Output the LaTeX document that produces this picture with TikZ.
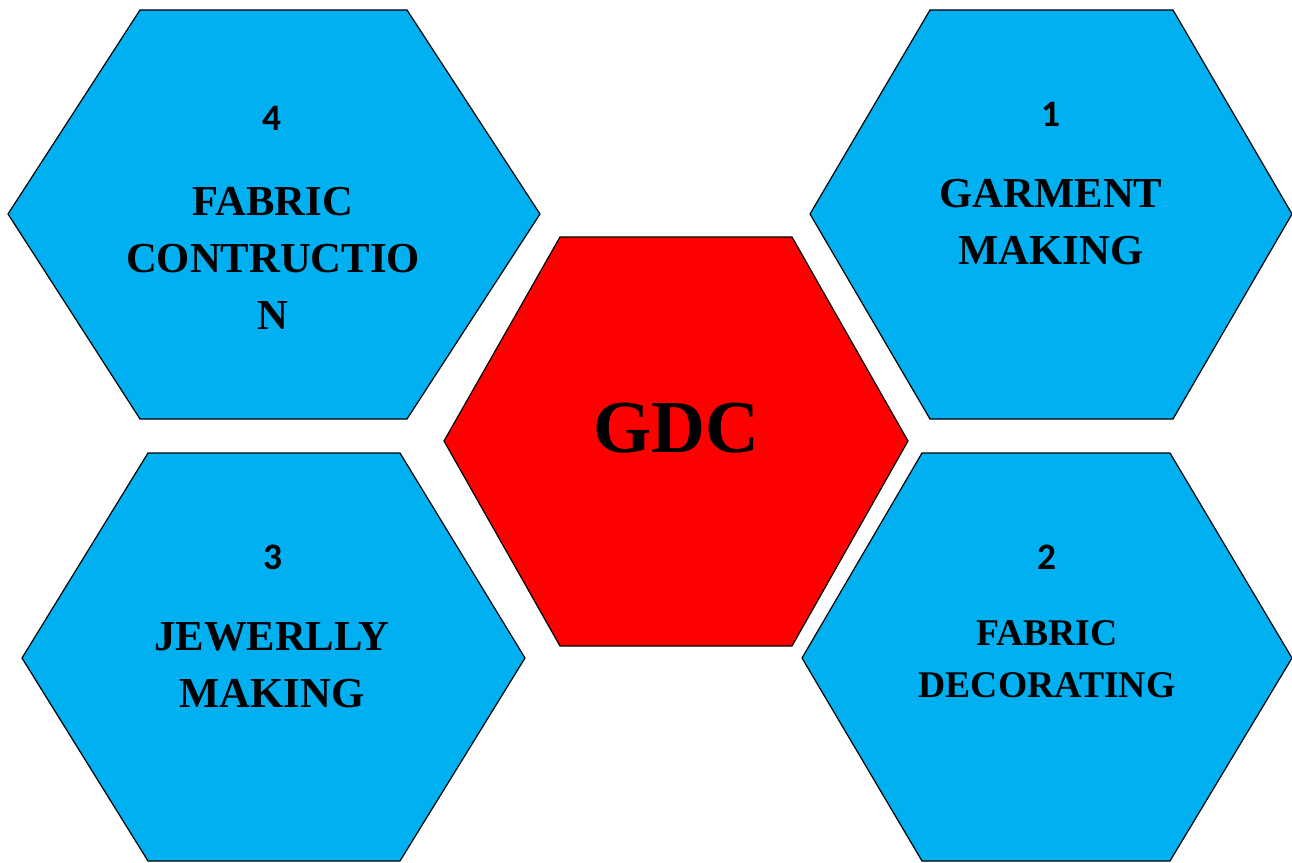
\documentclass[tikz,border=0pt]{standalone}
\usepackage{fontspec}
\setmainfont{Liberation Serif}
\newfontfamily\numfont{Carlito}
\definecolor{hexblue}{RGB}{0,176,240}
\definecolor{hexred}{RGB}{255,0,0}

\begin{document}
\begin{tikzpicture}[x=0.75pt,y=0.75pt,yscale=-1,xscale=1,
    hexcell/.style={draw=black,line width=0.9pt,fill=hexblue},
    hexcore/.style={draw=black,line width=0.9pt,fill=hexred},
    numlabel/.style={inner sep=0pt,font=\fontsize{28}{32}\selectfont\numfont\bfseries},
    celllabel/.style={align=center,inner sep=0pt,font=\fontsize{32}{42.75}\selectfont\bfseries}]
    \useasboundingbox (0,0) rectangle (1292,863);

    %Shape: Hexagon [id:fabric_construction]
    \draw [hexcell] (140,10) -- (407,10) -- (540,214) -- (407,419) -- (140,419) -- (8,214) -- cycle ;
    %Shape: Hexagon [id:garment_making]
    \draw [hexcell] (930,10) -- (1173,10) -- (1292,214) -- (1173,419) -- (930,419) -- (810,214) -- cycle ;
    %Shape: Hexagon [id:jewellery_making]
    \draw [hexcell] (148,453) -- (400,453) -- (525,658) -- (400,861) -- (148,861) -- (22,658) -- cycle ;
    %Shape: Hexagon [id:fabric_decorating]
    \draw [hexcell] (922,453) -- (1170,453) -- (1292,658) -- (1170,861) -- (922,861) -- (802,658) -- cycle ;
    %Shape: Hexagon [id:gdc]
    \draw [hexcore] (560,237) -- (792,237) -- (908,441) -- (792,646) -- (560,646) -- (444,441) -- cycle ;

    % Text Node
    \draw (272,118) node (num4) [numlabel] {4};
    % Text Node
    \draw (273,258) node (lbl4) [celllabel] {FABRIC\\CONTRUCTIO\\N};
    % Text Node
    \draw (1051,114) node (num1) [numlabel] {1};
    % Text Node
    \draw (1051,222) node (lbl1) [celllabel] {GARMENT\\MAKING};
    % Text Node
    \draw (273,557) node (num3) [numlabel] {3};
    % Text Node
    \draw (272,665) node (lbl3) [celllabel] {JEWERLLY\\MAKING};
    % Text Node
    \draw (1047,557) node (num2) [numlabel] {2};
    % Text Node
    \draw (1047,659) node (lbl2) [celllabel,font=\fontsize{28.25}{39}\selectfont\bfseries] {FABRIC\\DECORATING};
    % Text Node
    \draw (676,428) node (core) [inner sep=0pt,font=\fontsize{56}{60}\selectfont\bfseries] {GDC};
\end{tikzpicture}
\end{document}
